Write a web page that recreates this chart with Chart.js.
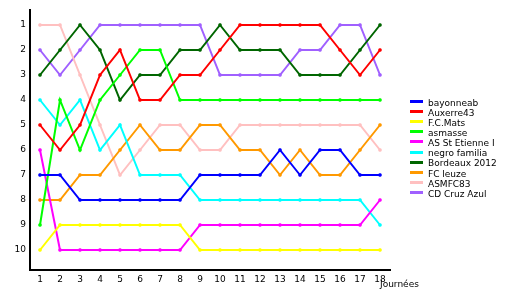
<!DOCTYPE html>
<html><head><meta charset="utf-8">
<script src="https://cdn.jsdelivr.net/npm/chart.js@4"></script>
<style>html,body{margin:0;padding:0;background:#fff;}#wrap{width:530px;height:300px;position:relative;}</style>
</head><body><div id="wrap"><canvas id="c" width="530" height="300"></canvas></div>
<script>
const days = [1,2,3,4,5,6,7,8,9,10,11,12,13,14,15,16,17,18];
const yTicks = [1,2,3,4,5,6,7,8,9,10];
const xTitle = "Journées";
const teams = ["bayonneab","Auxerre43","F.C.Mats","asmasse","AS St Etienne I","negro familia","Bordeaux 2012","FC leuze","ASMFC83","CD Cruz Azul"];
const bayonneab   = [7,7,8,8,8,8,8,8,7,7,7,7,6,7,6,6,7,7];
const auxerre43   = [5,6,5,3,2,4,4,3,3,2,1,1,1,1,1,2,3,2];
const fcMats      = [10,9,9,9,9,9,9,9,10,10,10,10,10,10,10,10,10,10];
const asmasse     = [9,4,6,4,3,2,2,4,4,4,4,4,4,4,4,4,4,4];
const asStEtienne = [6,10,10,10,10,10,10,10,9,9,9,9,9,9,9,9,9,8];
const negroFamilia= [4,5,4,6,5,7,7,7,8,8,8,8,8,8,8,8,8,9];
const bordeaux2012= [3,2,1,2,4,3,3,2,2,1,2,2,2,3,3,3,2,1];
const fcLeuze     = [8,8,7,7,6,5,6,6,5,5,6,6,7,6,7,7,6,5];
const asmfc83     = [1,1,3,5,7,6,5,5,6,6,5,5,5,5,5,5,5,6];
const cdCruzAzul  = [2,3,2,1,1,1,1,1,1,3,3,3,3,2,2,1,1,3];
const series = [bayonneab,auxerre43,fcMats,asmasse,asStEtienne,negroFamilia,bordeaux2012,fcLeuze,asmfc83,cdCruzAzul];
const colors = ["#0000ff","#ff0000","#ffff00","#00ff00","#ff00ff","#00ffff","#006600","#ff9900","#ffc0c0","#a060ff"];

const FONT = "DejaVu Sans";
const datasets = teams.map((t,i)=>({
  label:t,
  data: days.map((d,j)=>({x:d,y:series[i][j]})),
  borderColor:colors[i], backgroundColor:colors[i],
  pointBackgroundColor:colors[i], pointBorderColor:colors[i],
  borderWidth:2, pointStyle:'rect', pointRadius:1.6, pointBorderWidth:1,
  tension:0, fill:false
}));

const legendPlugin = {
  id:'customLegend',
  afterDraw(chart){
    const ctx = chart.ctx;
    ctx.save();
    ctx.font = "9px '"+FONT+"'";
    ctx.textBaseline = 'middle';
    ctx.textAlign = 'left';
    chart.data.datasets.forEach((ds,i)=>{
      const y = 101 + i*10.1;
      ctx.fillStyle = ds.borderColor;
      ctx.fillRect(410, Math.round(y)-1, 13, 3);
      ctx.fillStyle = '#000';
      ctx.fillText(ds.label, 428, y+2.5);
    });
    ctx.fillStyle = '#000';
    ctx.fillText(xTitle, 380, 285);
    ctx.restore();
  }
};

new Chart(document.getElementById('c'), {
  type:'line',
  data:{datasets},
  options:{
    responsive:false, animation:false, devicePixelRatio:1,
    layout:{padding:{top:10,right:140,left:0,bottom:0}},
    plugins:{legend:{display:false}, tooltip:{enabled:false}},
    scales:{
      x:{type:'linear', min:0.5, max:18.5,
        afterFit(s){s.height=30;},
        afterBuildTicks(s){s.ticks = days.map(v=>({value:v}));},
        grid:{display:false, drawTicks:false},
        border:{display:true,color:'#000',width:2},
        ticks:{color:'#000', font:{family:FONT,size:9}, padding:4, maxRotation:0, autoSkip:false}
      },
      y:{type:'linear', reverse:true, min:0.4, max:10.8,
        afterFit(s){s.width=30;},
        afterBuildTicks(s){s.ticks = yTicks.map(v=>({value:v}));},
        grid:{display:false, drawTicks:false},
        border:{display:true,color:'#000',width:2},
        ticks:{color:'#000', font:{family:FONT,size:9}, padding:4}
      }
    }
  },
  plugins:[legendPlugin]
});
</script></body></html>
